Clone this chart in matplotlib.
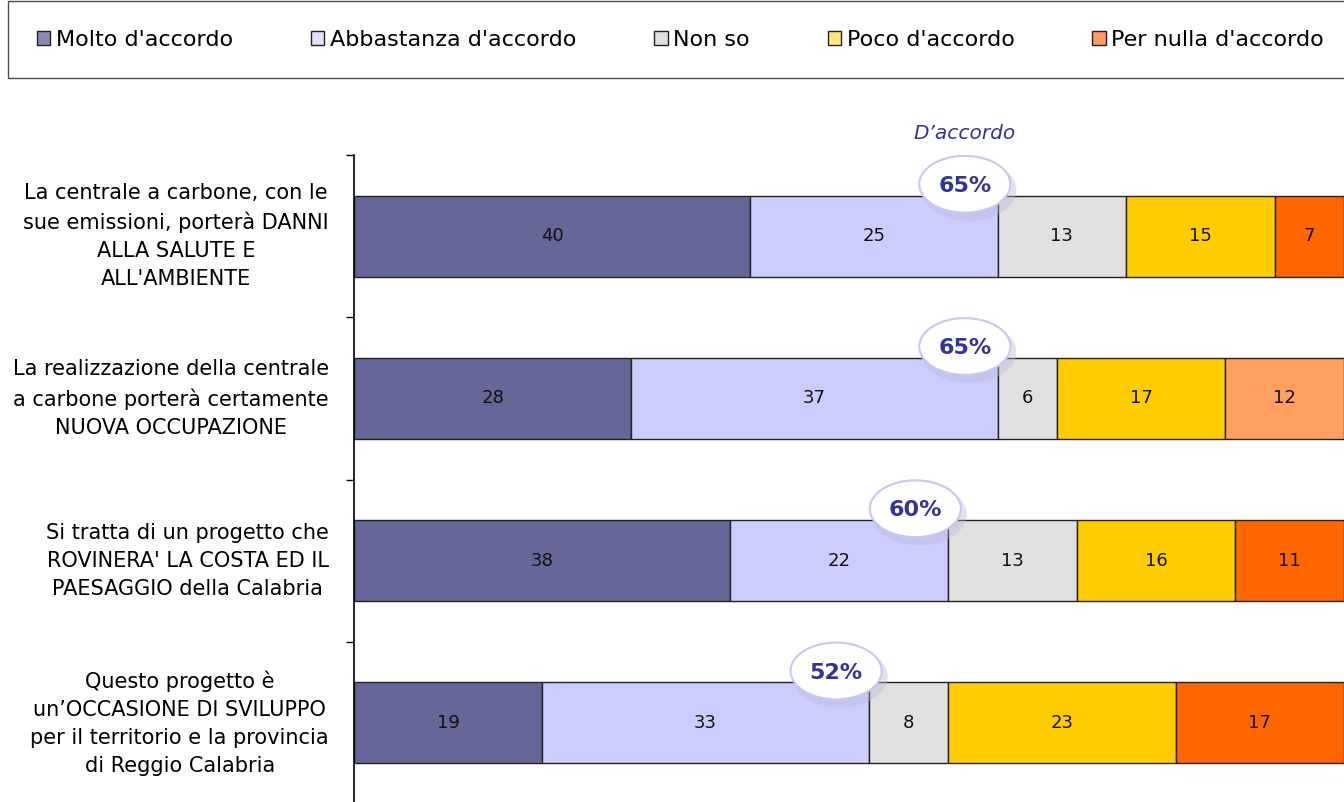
import matplotlib
matplotlib.use("Agg")
import matplotlib.pyplot as plt
from matplotlib.patches import Ellipse, Patch

# ---------- Dati ----------
categorie = [
    "La centrale a carbone, con le\nsue emissioni, porterà DANNI\nALLA SALUTE E\nALL'AMBIENTE",
    "La realizzazione della centrale\na carbone porterà certamente\nNUOVA OCCUPAZIONE",
    "Si tratta di un progetto che\nROVINERA' LA COSTA ED IL\nPAESAGGIO della Calabria",
    "Questo progetto è\nun’OCCASIONE DI SVILUPPO\nper il territorio e la provincia\ndi Reggio Calabria",
]
serie = ["Molto d'accordo", "Abbastanza d'accordo", "Non so",
         "Poco d'accordo", "Per nulla d'accordo"]
molto = [40, 28, 38, 19]
abbastanza = [25, 37, 22, 33]
non_so = [13, 6, 13, 8]
poco = [15, 17, 16, 23]
per_nulla = [7, 12, 11, 17]
d_accordo = [65, 65, 60, 52]

valori = [molto, abbastanza, non_so, poco, per_nulla]
colori = ["#666699", "#CCCCFF", "#E0E0E0", "#FFCC00", "#FF6600"]
colori_legenda = ["#8A8AB0", "#E0E0FF", "#E0E0E0", "#FFE680", "#FF9966"]
# la seconda riga ha il "per nulla" più chiaro
colore_per_nulla = ["#FF6600", "#FF9F60", "#FF6600", "#FF6600"]

BLU = "#333399"

fig = plt.figure(figsize=(13.44, 8.02), dpi=100)
ax = fig.add_axes([0.2634, -0.0025, 0.7366, 0.8092])

y = list(range(len(categorie)))
left = [0] * len(categorie)
for k, (vals, col) in enumerate(zip(valori, colori)):
    cols = colore_per_nulla if k == 4 else [col] * len(vals)
    ax.barh(y, vals, left=left, height=0.5, color=cols,
            edgecolor="#222222", linewidth=1.0, zorder=2)
    for i, v in enumerate(vals):
        ax.text(left[i] + v / 2, i, f"{v}", ha="center", va="center",
                fontsize=13, color="#111111", zorder=3)
    left = [a + b for a, b in zip(left, vals)]

# Bolle "D'accordo"
for i, tot in enumerate(d_accordo):
    cx, cy = tot - 3.3, i - 0.32
    ax.add_patch(Ellipse((cx + 0.4, cy + 0.035), 9.6, 0.38,
                         facecolor="#B8B8D8", alpha=0.4,
                         edgecolor="none", zorder=4))
    ax.add_patch(Ellipse((cx, cy), 9.2, 0.35, facecolor="white",
                         edgecolor="#C8C8F0", linewidth=1.5, zorder=5))
    ax.text(cx, cy + 0.01, f"{tot}%", ha="center", va="center", fontsize=16,
            fontweight="bold", color=BLU, zorder=6)

ax.text(d_accordo[0] - 3.3, -0.63, "D’accordo", ha="center", va="center",
        fontsize=14.5, style="italic", color=BLU)

ax.set_xlim(0, 100)
ax.set_ylim(3.5, -0.5)
ax.set_yticks(y)
ax.set_yticklabels(categorie, fontsize=15, linespacing=1.5)
for lbl in ax.get_yticklabels():
    lbl.set_multialignment("center")
    lbl.set_verticalalignment("center")
ax.set_yticks([-0.5, 0.5, 1.5, 2.5, 3.5], minor=True)
ax.tick_params(axis="y", which="major", length=0, pad=18)
ax.tick_params(axis="y", which="minor", length=6, width=1, direction="out")
ax.set_xticks([])
for s in ["top", "right", "bottom"]:
    ax.spines[s].set_visible(False)
ax.spines["left"].set_linewidth(1.2)

# Legenda
handles = [Patch(facecolor=c, edgecolor="#222222", linewidth=1.0)
           for c in colori_legenda]
leg = fig.legend(handles, serie, loc="center left", ncol=5,
                 bbox_to_anchor=(8 / 1344, 1 - 77 / 802, 1345 / 1344, 75 / 802),
                 mode="expand", fontsize=16, handlelength=0.6,
                 handleheight=0.6, handletextpad=0.25, borderpad=1.3,
                 frameon=True, fancybox=False, borderaxespad=0)
leg.get_frame().set_edgecolor("#222222")
leg.get_frame().set_linewidth(1.0)

fig.savefig("out.png", dpi=100)
plt.close(fig)
